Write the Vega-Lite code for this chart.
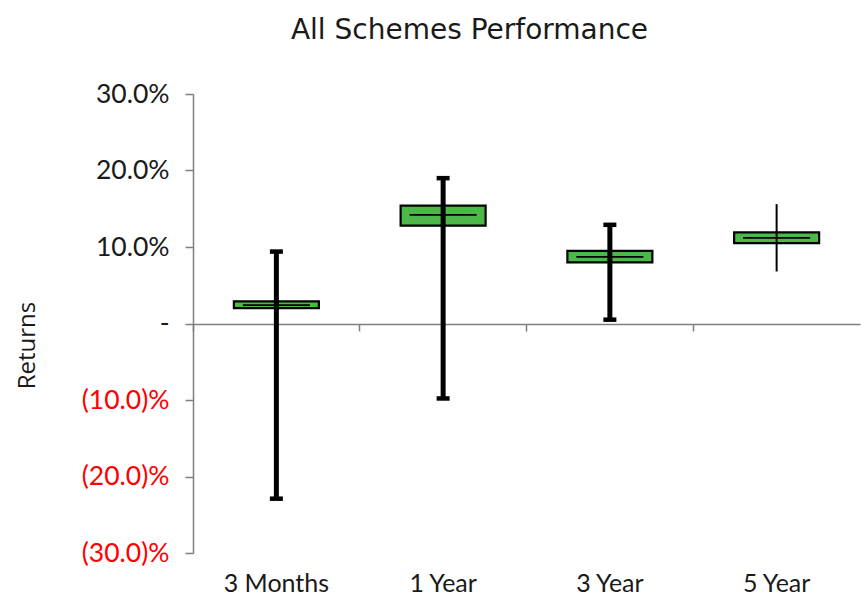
{
  "$schema": "https://vega.github.io/schema/vega-lite/v6.json",
  "autosize": "none",
  "width": 667,
  "height": 459,
  "padding": {"left": 193, "top": 94, "right": 1, "bottom": 45},
  "background": "white",
  "title": {"text": "All Schemes Performance", "font": "DejaVu Sans", "fontSize": 28, "fontWeight": "normal", "color": "#1a1a1a", "anchor": "middle", "dx": -57, "offset": 36},
  "data": {"values": [
    {"cat": "3 Months", "low": -22.9, "q1": 2.0, "median": 2.4, "q3": 2.9, "high": 9.4},
    {"cat": "1 Year", "low": -9.8, "q1": 12.8, "median": 14.2, "q3": 15.4, "high": 19.0},
    {"cat": "3 Year", "low": 0.5, "q1": 8.0, "median": 8.7, "q3": 9.5, "high": 12.9},
    {"cat": "5 Year", "low": 6.8, "q1": 10.5, "median": 11.2, "q3": 11.9, "high": 15.6}
  ]},
  "config": {
    "view": {"stroke": null},
    "axisY": {
      "grid": false, "domainColor": "#7f7f7f", "domainWidth": 1.5, "tickColor": "#7f7f7f", "tickSize": 8, "tickWidth": 1.5,
      "labelFont": "Lato", "labelFontSize": 26.5, "labelPadding": 16,
      "titleFont": "Open Sans", "titleFontSize": 24, "titleFontWeight": "normal", "titleColor": "#1a1a1a", "titlePadding": 42, "titleY": 251
    },
    "axisX": {"grid": false}
  },
  "resolve": {"axis": {"x": "independent"}},
  "layer": [
    {
      "mark": {"type": "bar", "width": 85, "fill": "#4cb848", "stroke": "#000000", "strokeWidth": 2.2},
      "encoding": {
        "x": {"field": "cat", "type": "nominal", "sort": null, "scale": {"paddingInner": 0, "paddingOuter": 0},
          "axis": {"title": null, "domain": false, "ticks": false, "tickSize": 0, "labelAngle": 0, "labelFont": "Lato", "labelFontSize": 25, "labelColor": "#1a1a1a", "labelPadding": 18}},
        "y": {"field": "q1", "type": "quantitative", "title": "Returns",
          "scale": {"domain": [-30, 30], "nice": false},
          "axis": {"values": [-30, -20, -10, 0, 10, 20, 30],
            "labelExpr": "datum.value > 0 ? format(datum.value, '.1f') + '%' : (datum.value < 0 ? '(' + format(-datum.value, '.1f') + ')%' : '-')",
            "labelColor": {"condition": {"test": "datum.value < 0", "value": "#ff0000"}, "value": "#1a1a1a"}}},
        "y2": {"field": "q3"}
      }
    },
    {
      "mark": {"type": "tick", "size": 67, "thickness": 1.8, "color": "#000000", "opacity": 1},
      "encoding": {
        "x": {"field": "cat", "type": "nominal", "sort": null,
          "axis": {"title": null, "orient": "bottom", "offset": -229, "labels": false, "domain": true, "domainColor": "#7f7f7f", "domainWidth": 1.5, "ticks": true, "tickSize": 7, "tickColor": "#7f7f7f", "tickWidth": 1.5, "bandPosition": 0}},
        "y": {"field": "median", "type": "quantitative", "title": "Returns"}
      }
    },
    {
      "transform": [{"filter": "datum.cat != '5 Year'"}],
      "mark": {"type": "rule", "strokeWidth": 5, "color": "#000000"},
      "encoding": {
        "x": {"field": "cat", "type": "nominal", "sort": null, "axis": null},
        "y": {"field": "low", "type": "quantitative", "title": "Returns"},
        "y2": {"field": "high"}
      }
    },
    {
      "transform": [{"filter": "datum.cat == '5 Year'"}],
      "mark": {"type": "rule", "strokeWidth": 2, "color": "#000000"},
      "encoding": {
        "x": {"field": "cat", "type": "nominal", "sort": null, "axis": null},
        "y": {"field": "low", "type": "quantitative", "title": "Returns"},
        "y2": {"field": "high"}
      }
    },
    {
      "transform": [{"filter": "datum.cat != '5 Year'"}],
      "mark": {"type": "tick", "size": 13, "thickness": 4.5, "color": "#000000", "opacity": 1},
      "encoding": {
        "x": {"field": "cat", "type": "nominal", "sort": null, "axis": null},
        "y": {"field": "high", "type": "quantitative", "title": "Returns"}
      }
    },
    {
      "transform": [{"filter": "datum.cat != '5 Year'"}],
      "mark": {"type": "tick", "size": 13, "thickness": 4.5, "color": "#000000", "opacity": 1},
      "encoding": {
        "x": {"field": "cat", "type": "nominal", "sort": null, "axis": null},
        "y": {"field": "low", "type": "quantitative", "title": "Returns"}
      }
    }
  ]
}
